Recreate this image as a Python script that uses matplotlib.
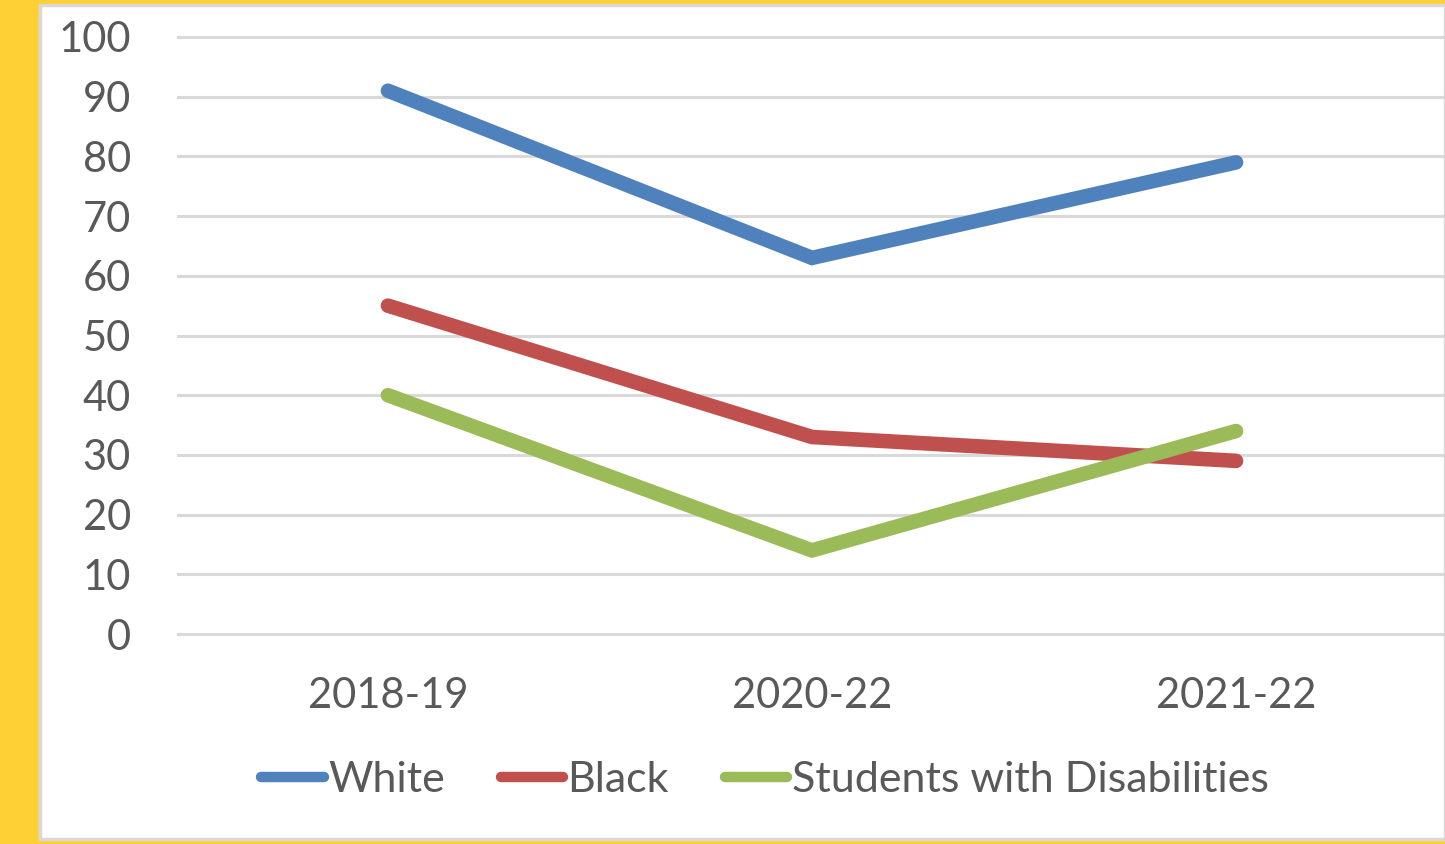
import matplotlib
matplotlib.use("Agg")
import matplotlib.pyplot as plt
from matplotlib.patches import Rectangle

categories = ["2018-19", "2020-22", "2021-22"]
white = [91, 63, 79]
black = [55, 33, 29]
swd = [40, 14, 34]
series_names = ["White", "Black", "Students with Disabilities"]
yticks = [0, 10, 20, 30, 40, 50, 60, 70, 80, 90, 100]

W, H = 1445, 844
plt.rcParams['font.family'] = ['Lato', 'DejaVu Sans']
fig = plt.figure(figsize=(W / 100, H / 100), dpi=100, facecolor='#FFD033')

# white panel
fig.patches.append(Rectangle((40 / W, 5 / H), (W - 40) / W, (839 - 5) / H,
                             transform=fig.transFigure, facecolor='white',
                             edgecolor='#D9D9D9', linewidth=2.5, zorder=-5))

ax = fig.add_axes([178 / W, (H - 634) / H, (1443 - 178) / W, (634 - 37) / H])
ax.set_zorder(2)
ax.set_facecolor('none')
ax.set_ylim(0, 100)
ax.set_xlim(-0.495, 2.488)
ax.set_yticks(yticks)
ax.set_xticks(range(len(categories)))
ax.set_xticklabels(categories)
for s in ax.spines.values():
    s.set_visible(False)
ax.grid(axis='y', color='#D9D9D9', linewidth=2.2)
ax.tick_params(axis='both', length=0, labelsize=30, labelcolor='#595959')
ax.tick_params(axis='y', pad=34)
ax.tick_params(axis='x', pad=31)
for gl in ax.get_ygridlines():
    gl.set_clip_on(False)

x = list(range(len(categories)))
colors = ['#4F81BD', '#C0504D', '#9BBB59']
handles = []
for vals, c, name in zip([white, black, swd], colors, series_names):
    h, = ax.plot(x, vals, color=c, linewidth=10.5, solid_capstyle='round',
                 solid_joinstyle='miter', label=name, clip_on=False, zorder=3)
    handles.append(h)

leg = fig.legend(handles=handles, loc='center', bbox_to_anchor=(765 / W, (H - 780) / H),
                 ncol=3, frameon=False, fontsize=31, handlelength=1.45,
                 handletextpad=0.1, columnspacing=1.3, labelcolor='#595959')
leg.set_zorder(3)
for l in leg.get_lines():
    l.set_linewidth(7.5)
    l.set_solid_capstyle('round')

fig.savefig('out.png', dpi=100, facecolor=fig.get_facecolor())
